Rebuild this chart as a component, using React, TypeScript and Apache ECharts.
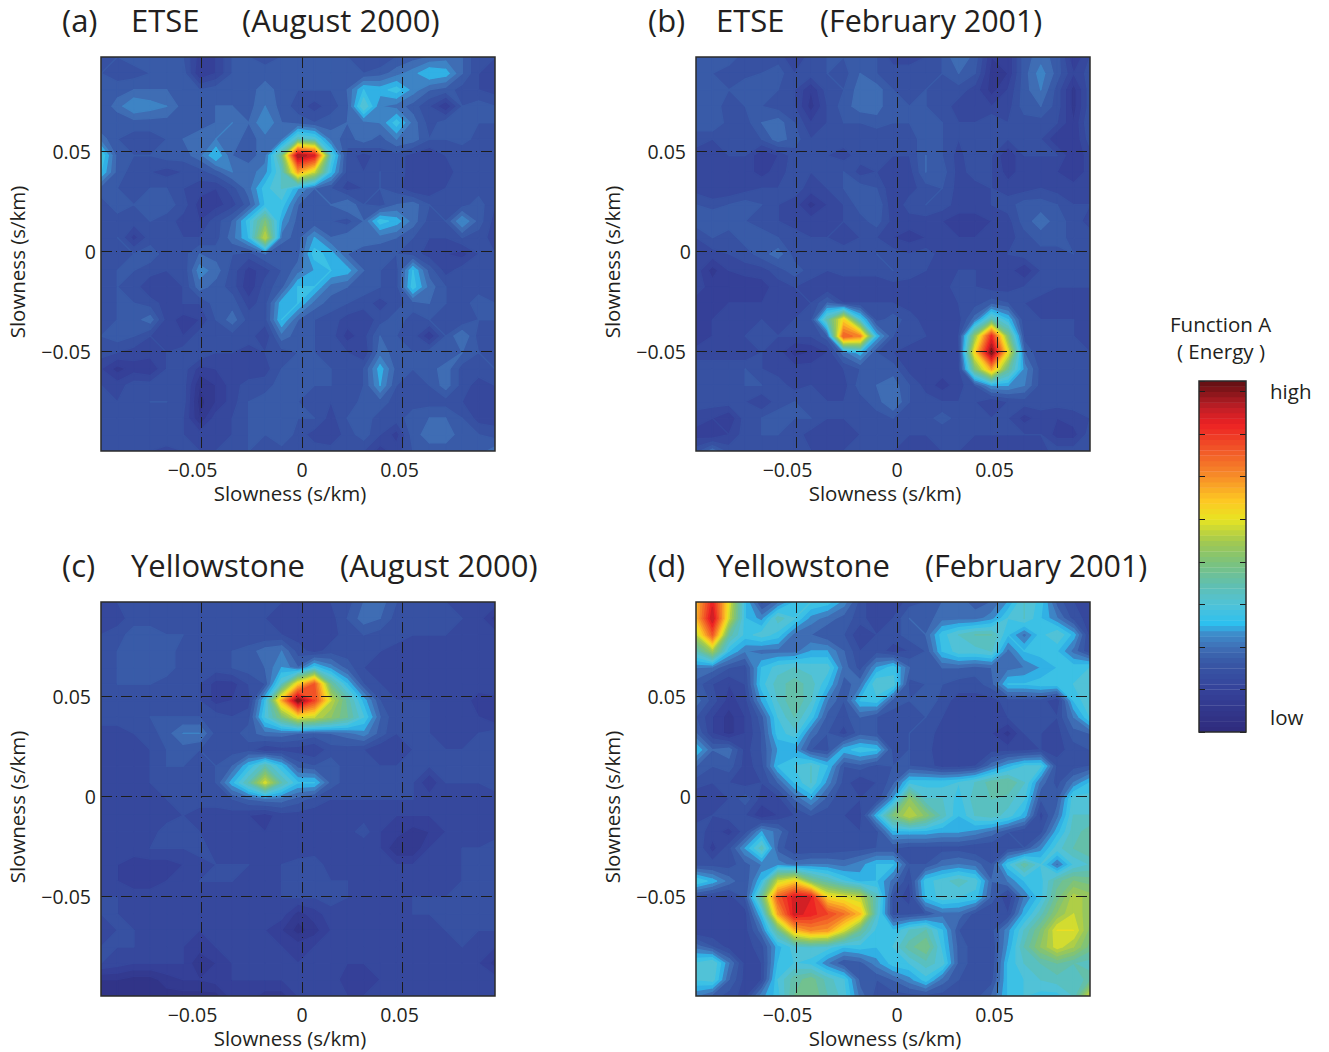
import React, { useEffect, useRef } from "react";
import * as echarts from "echarts";

const FONT = '"Open Sans", sans-serif';
const INK = "#231f20";

const panelA = [
[11,12,13,13,12,12,7,8,12,12,11,12,13,12,12,12,11,10,12,13,14,15,14,10,10],
[12,11,11,12,12,13,6,8,12,13,13,12,13,13,13,13,12,13,15,17,20,19,14,10,9],
[12,13,14,14,14,13,12,13,12,13,15,13,12,12,12,14,20,19,21,17,14,13,11,10,9],
[12,15,18,17,16,13,12,14,14,13,16,13,11,9,11,13,24,16,15,13,10,6,12,13,12],
[12,12,13,13,13,12,13,14,16,14,18,14,13,12,13,14,15,16,21,15,11,13,14,12,12],
[15,12,11,11,12,14,15,16,15,13,15,15,25,23,15,13,15,13,16,15,12,12,13,11,11],
[22,13,12,12,13,13,15,20,14,13,15,28,60,56,23,11,9,11,11,9,8,10,10,10,11],
[20,13,11,10,9,10,11,13,16,15,17,24,44,36,20,11,10,12,11,9,8,9,11,11,11],
[13,12,11,12,12,10,9,8,11,15,21,24,18,14,12,9,10,12,11,8,8,10,11,11,10],
[11,13,12,13,13,11,7,7,9,13,20,21,14,13,14,16,12,11,14,15,12,11,11,13,10],
[11,11,11,12,11,9,8,11,14,21,30,18,13,12,12,11,14,21,19,15,11,12,18,13,9],
[11,12,7,11,10,10,10,11,15,20,36,15,13,18,14,15,15,15,14,12,10,10,12,11,9],
[10,10,12,13,11,11,14,13,12,11,14,12,13,21,19,14,13,12,12,11,9,8,7,10,10],
[11,12,12,11,10,10,17,15,11,7,9,12,15,18,20,19,14,12,11,20,13,9,11,11,11],
[11,12,11,8,8,10,15,13,11,6,11,13,20,20,15,14,13,12,11,21,15,12,11,11,11],
[11,12,12,11,9,10,10,13,13,9,11,19,20,15,13,12,11,9,11,13,14,12,11,13,12],
[11,12,13,15,9,7,8,12,15,11,11,20,14,12,11,9,8,11,13,11,12,11,10,12,12],
[12,13,12,10,9,8,11,11,11,11,8,15,13,12,11,7,9,14,12,11,6,12,16,11,10],
[11,10,9,9,10,11,12,10,10,9,10,11,12,12,11,10,8,15,13,12,13,12,14,12,10],
[8,5,7,6,10,11,7,8,9,8,9,12,12,12,12,11,12,19,13,12,13,15,11,11,12],
[10,9,11,11,11,11,4,6,9,11,11,13,12,12,12,10,12,18,12,11,12,15,11,9,10],
[11,10,11,12,12,11,3,6,9,12,13,13,12,11,10,10,13,13,11,11,11,11,10,9,9],
[11,11,11,11,11,10,4,9,10,12,13,13,12,12,9,12,13,11,11,13,14,14,12,9,9],
[12,11,11,11,12,10,9,9,10,12,12,14,11,9,8,11,13,10,7,13,15,15,13,12,11],
[11,11,10,10,9,10,10,10,11,12,11,11,11,11,11,11,10,7,9,12,13,13,13,13,15],
];

const panelB = [
[12,12,13,11,10,11,8,11,12,12,13,12,9,9,10,12,16,13,6,6,13,15,13,6,10],
[13,12,11,11,12,13,10,11,12,11,14,12,11,11,11,12,14,12,5,6,13,17,13,8,11],
[13,14,12,14,12,12,10,6,11,12,15,15,12,11,12,11,11,9,5,8,13,16,11,5,11],
[12,13,11,12,12,11,10,5,10,13,15,15,12,12,12,11,9,8,8,9,13,14,11,5,11],
[13,14,11,11,14,15,12,8,10,12,12,13,12,12,13,12,10,10,12,10,11,11,10,6,12],
[11,10,10,11,12,15,13,10,10,11,11,10,11,11,13,12,10,11,10,10,10,10,6,6,11],
[9,9,10,10,6,8,11,10,10,9,11,11,10,10,14,12,9,12,10,6,10,10,10,6,9],
[8,9,9,9,7,9,11,10,11,12,9,10,9,9,14,13,9,11,10,7,9,9,8,6,9],
[9,8,8,9,10,10,11,9,10,12,13,12,8,9,11,12,9,9,10,9,9,10,9,9,9],
[12,11,12,13,12,10,9,5,8,10,13,14,8,11,12,11,9,9,10,11,13,13,12,10,10],
[13,14,13,12,11,10,9,9,8,10,11,13,9,9,9,8,7,7,8,9,13,15,13,11,9],
[10,12,11,13,13,12,11,10,10,9,10,10,8,7,8,8,8,8,8,9,11,13,13,11,11],
[9,9,10,11,13,15,11,10,11,11,11,12,11,10,11,9,9,9,8,10,11,11,11,12,11],
[9,5,8,9,9,11,13,11,10,11,11,11,12,11,10,9,10,10,9,9,6,10,11,11,11],
[9,7,7,6,7,9,10,9,8,8,8,8,9,9,9,9,11,10,9,9,10,11,10,10,10],
[7,7,8,8,8,8,9,10,14,10,10,10,10,9,8,9,10,11,13,12,10,9,9,9,8],
[6,8,9,9,10,9,10,11,26,40,22,11,13,11,9,8,9,15,26,20,10,10,10,10,9],
[6,8,9,10,11,10,10,10,13,50,46,19,12,11,10,9,10,32,54,30,11,10,10,10,9],
[9,9,9,8,10,9,5,6,8,15,19,12,10,9,9,9,9,40,62,38,14,10,11,10,10],
[11,11,11,12,10,9,9,9,8,10,12,13,13,9,9,9,9,30,44,28,17,11,10,11,11],
[11,11,10,12,12,11,9,10,9,9,13,14,15,12,9,7,9,12,18,18,16,11,11,11,12],
[11,11,11,10,8,11,12,11,10,10,11,13,16,12,11,10,10,10,8,10,11,11,11,11,11],
[9,8,6,11,12,13,12,12,10,10,10,11,12,11,11,13,11,10,10,10,7,9,8,9,10],
[7,6,8,11,12,12,11,9,9,9,10,10,11,10,10,10,11,10,10,10,10,10,7,7,11],
[11,15,11,11,11,11,10,10,10,10,10,10,10,9,9,10,10,9,9,9,9,9,11,11,12],
];

const panelC = [
[9,10,10,10,11,11,11,11,11,11,11,10,10,9,10,11,14,15,12,10,10,10,9,9,9],
[9,9,11,11,11,10,11,11,11,10,10,9,8,8,9,12,15,14,11,11,10,10,10,9,5],
[10,11,13,13,12,12,11,11,11,10,10,10,9,8,9,11,12,11,11,10,10,10,9,9,9],
[10,12,13,14,13,11,11,11,12,13,15,16,11,9,11,11,10,10,9,9,9,9,9,9,9],
[10,12,13,13,13,11,11,11,12,13,14,18,14,21,17,13,10,9,8,8,8,9,9,9,10],
[11,12,12,12,11,11,10,7,7,10,12,24,40,50,28,20,12,10,9,8,8,9,9,9,10],
[11,11,11,11,11,11,10,7,8,9,20,43,62,52,36,27,19,12,10,10,10,9,9,7,7],
[11,11,11,12,12,12,12,11,10,11,22,30,38,36,32,28,22,14,10,10,10,9,9,8,6],
[9,9,10,11,13,16,16,11,11,13,15,15,14,13,14,15,17,13,10,10,10,9,9,10,11],
[8,9,8,10,12,13,12,11,11,11,8,9,9,8,11,11,10,8,9,10,10,10,10,10,11],
[8,9,8,10,12,12,11,12,14,20,26,20,13,12,13,11,10,10,10,10,10,10,10,10,11],
[9,9,9,10,11,11,11,12,19,26,37,26,20,20,13,11,10,10,10,10,6,10,10,10,11],
[8,8,8,9,10,10,11,11,12,14,15,15,13,11,10,10,10,10,10,10,9,9,9,9,9],
[8,8,8,8,9,10,9,9,9,8,7,9,9,9,9,9,9,8,8,8,8,8,8,8,8],
[9,8,8,9,11,11,10,9,8,8,8,8,9,9,8,9,11,8,7,5,6,8,9,9,9],
[10,9,9,10,10,10,11,9,8,8,9,8,8,9,8,8,8,8,4,4,8,9,10,10,11],
[9,8,7,7,7,8,9,10,10,10,9,10,11,11,9,8,8,8,8,8,9,9,10,10,11],
[9,8,7,7,8,8,10,10,10,9,9,10,11,11,10,10,9,9,8,8,9,9,10,10,10],
[10,10,9,9,8,9,8,8,9,9,9,10,10,10,11,10,9,9,9,10,10,10,10,10,10],
[10,10,9,9,8,8,8,8,8,8,8,9,5,7,9,9,9,8,9,10,10,11,12,10,10],
[9,10,10,9,9,8,8,8,8,8,8,6,3,5,8,8,9,8,9,8,9,10,10,10,10],
[10,10,10,9,8,8,7,8,8,8,8,8,7,8,8,8,8,8,8,8,9,9,10,8,8],
[10,9,8,8,8,8,4,6,8,8,8,8,8,8,8,8,8,8,8,8,8,8,8,8,5],
[4,4,3,3,5,6,6,7,8,8,8,8,9,9,9,7,7,8,8,8,8,8,9,9,9],
[3,3,3,3,3,3,3,3,7,7,5,5,8,9,9,8,8,8,8,8,8,8,9,9,9],
];

const panelD = [
[42,55,38,20,11,15,20,22,21,17,11,8,8,11,12,14,15,13,14,18,24,21,13,10,9],
[42,58,36,20,17,25,22,17,15,13,11,8,10,14,13,15,15,15,17,22,24,20,16,11,9],
[35,50,27,21,23,21,15,14,12,12,8,10,11,13,14,21,24,26,26,20,15,21,24,19,9],
[25,33,20,16,15,15,15,18,18,14,10,11,9,10,12,20,23,23,24,15,20,21,20,15,10],
[16,15,12,11,20,23,24,23,23,15,11,18,21,14,13,14,14,13,14,15,16,18,20,21,22],
[13,10,8,10,21,25,27,25,20,13,15,24,23,11,12,12,11,11,13,20,20,21,21,22,23],
[15,11,7,9,18,24,28,24,16,12,20,21,13,12,14,11,9,9,9,11,11,11,8,20,24],
[12,8,5,8,13,22,26,21,13,11,14,12,11,11,12,10,9,9,9,10,10,10,10,16,22],
[14,8,5,8,12,21,23,15,12,9,13,12,10,12,11,9,9,9,8,5,10,10,9,13,14],
[20,14,15,9,12,18,18,12,11,19,21,20,11,12,11,8,8,9,9,9,9,10,9,11,12],
[14,12,13,9,11,20,22,24,20,12,13,11,12,12,11,9,9,10,15,19,22,22,11,11,12],
[11,10,10,9,10,14,20,24,17,11,8,10,13,21,21,21,22,24,27,28,24,15,11,16,20],
[8,8,10,13,9,9,14,18,13,10,10,10,18,32,24,24,21,25,26,25,22,12,13,23,23],
[9,10,11,10,6,8,10,12,11,10,9,19,30,36,31,25,20,24,25,23,19,9,15,24,24],
[11,9,7,11,18,15,10,10,10,10,10,11,19,19,19,18,18,17,15,12,10,11,19,25,27],
[12,7,11,18,25,13,10,10,10,11,11,12,12,11,11,11,11,10,10,11,12,17,23,26,28],
[11,11,11,13,16,17,15,16,16,15,17,20,20,12,12,15,16,15,12,21,27,22,15,22,24],
[22,19,15,12,20,36,40,30,26,22,19,20,15,10,21,23,25,23,14,16,20,21,27,30,29],
[10,9,9,12,28,50,57,56,40,38,36,25,11,9,20,23,22,21,13,8,16,21,29,35,33],
[9,9,9,9,20,44,57,55,52,48,42,24,11,11,12,15,15,11,10,10,19,25,32,36,32],
[8,8,9,9,15,28,42,46,45,37,28,21,20,24,26,20,12,11,11,17,24,30,38,38,31],
[15,12,9,9,11,19,23,24,23,20,21,20,22,27,30,21,13,11,10,18,26,32,37,34,29],
[22,24,16,9,10,20,22,21,16,12,13,17,21,22,25,23,13,11,10,20,24,26,28,26,25],
[22,23,14,9,10,22,27,29,25,22,13,12,14,17,21,15,12,11,11,20,22,24,25,24,27],
[16,13,11,9,17,21,28,30,26,23,15,11,11,11,11,11,11,11,14,20,22,21,21,24,37],
];

const panelMatrices = [panelA, panelB, panelC, panelD];
const panelLetters = ["(a)", "(b)", "(c)", "(d)"];
const panelNames = ["ETSE", "ETSE", "Yellowstone", "Yellowstone"];
const panelDates = ["(August 2000)", "(February 2001)", "(August 2000)", "(February 2001)"];
const axisTitle = "Slowness (s/km)";
const colorStops: [number, string][] = [
  [0, "#2f2a7c"], [0.12, "#35429a"], [0.2, "#3858a6"], [0.24, "#3f6eb5"], [0.28, "#3d8ccb"],
  [0.31, "#2dc0ef"], [0.363, "#50c2d8"], [0.42, "#60bfb0"], [0.483, "#7cc27c"], [0.545, "#a3c94f"],
  [0.606, "#e8e422"], [0.66, "#fdc823"], [0.727, "#f78f28"], [0.79, "#f26128"], [0.877, "#ed2224"],
  [0.924, "#c01f26"], [1, "#5f0f12"],
];
const colorbarLevels = Array.from({ length: 66 }, (_, i) => i);
const colorbarLabels = ["high", "low"];
const colorbarTitle = ["Function A", "( Energy )"];

const PANEL_SIZE = 394;
const panelBoxes = [
  { left: 101, top: 57 },
  { left: 696, top: 57 },
  { left: 101, top: 602 },
  { left: 696, top: 602 },
];
const letterX = [62, 648, 62, 648];
const nameX = [131, 716, 131, 716];
const dateX = [242, 820, 340, 925];
const dateSize = [31, 30.4, 31, 30.4];
const X_MIN = -0.1, X_MAX = 0.096, Y_MIN = -0.1, Y_MAX = 0.097;
const BAND = 2;
const contourLevels = Array.from({ length: 32 }, (_, i) => i * BAND);

function hexRgb(h: string) {
  return [1, 3, 5].map((i) => parseInt(h.slice(i, i + 2), 16));
}
function colorAt(f: number) {
  const t = Math.max(0, Math.min(1, f));
  for (let i = 1; i < colorStops.length; i++) {
    if (t <= colorStops[i][0]) {
      const [a, ca] = colorStops[i - 1];
      const [b, cb] = colorStops[i];
      const k = (t - a) / (b - a);
      const A = hexRgb(ca), B = hexRgb(cb);
      return `rgb(${A.map((v, j) => Math.round(v + (B[j] - v) * k)).join(",")})`;
    }
  }
  return colorStops[colorStops.length - 1][1];
}
const bandColor = (level: number) => colorAt((level + BAND / 2) / 63);

function clipQuad(pts: number[][], vals: number[], level: number) {
  const out: number[][] = [];
  for (let i = 0; i < 4; i++) {
    const j = (i + 1) % 4;
    const va = vals[i], vb = vals[j];
    if (va >= level) out.push(pts[i]);
    if (va >= level !== vb >= level) {
      const k = (level - va) / (vb - va);
      out.push([pts[i][0] + (pts[j][0] - pts[i][0]) * k, pts[i][1] + (pts[j][1] - pts[i][1]) * k]);
    }
  }
  return out;
}

// One data item per contour level; levels are painted low to high, so each band's seams are covered.
function contourRenderer(m: number[][]) {
  const n = m.length - 1;
  const dx = (X_MAX - X_MIN) / n, dy = (Y_MAX - Y_MIN) / n;
  return (_: any, api: any) => {
    const level = api.value(0);
    const fill = bandColor(level);
    const children: any[] = [];
    for (let r = 0; r < n; r++) {
      for (let c = 0; c < n; c++) {
        const vals = [m[r + 1][c], m[r + 1][c + 1], m[r][c + 1], m[r][c]];
        const lo = Math.min(...vals), hi = Math.max(...vals);
        if (hi < level) continue;
        if (lo >= level + BAND) continue;
        const xL = X_MIN + c * dx, xR = xL + dx, yT = Y_MAX - r * dy, yB = yT - dy;
        const pts = [api.coord([xL, yB]), api.coord([xR, yB]), api.coord([xR, yT]), api.coord([xL, yT])];
        const poly = level <= lo ? pts : clipQuad(pts, vals, level);
        if (poly.length > 2) {
          children.push({ type: "polygon", shape: { points: poly }, style: { fill, stroke: fill, lineWidth: 1.3, lineJoin: "round" } });
        }
      }
    }
    return { type: "group", children };
  };
}

function tickFmt(v: number) {
  if (Math.abs(v + 0.05) < 1e-6) return "{m|\u22120.05}";
  if (Math.abs(v) < 1e-6) return "{z|0}";
  if (Math.abs(v - 0.05) < 1e-6) return "{p|0.05}";
  return "";
}
const labelBase = { fontFamily: FONT, fontSize: 19.5, color: INK, lineHeight: 17 };
const gridLine = { show: true, showMinLine: false, showMaxLine: false, lineStyle: { color: "#1c1c1c", width: 1, type: [11, 4, 1, 4] as number[] } };

function buildOption() {
  const grid: any[] = [], xAxis: any[] = [], yAxis: any[] = [], series: any[] = [], graphic: any[] = [];
  const text = (t: string, x: number, y: number, size: number, extra: any = {}) => ({
    type: "text", x, y, z: 50, ...extra,
    style: { text: t, fontFamily: FONT, fontSize: size, fill: INK, textVerticalAlign: "middle", ...(extra.style || {}) },
  });
  panelBoxes.forEach((b, i) => {
    grid.push({ left: b.left, top: b.top, width: PANEL_SIZE, height: PANEL_SIZE, show: true, z: 20, backgroundColor: "transparent", borderColor: "#2b2b2b", borderWidth: 1.5 });
    xAxis.push({
      type: "value", gridIndex: i, min: X_MIN, max: X_MAX, interval: 0.05, z: 10,
      axisLine: { show: false }, axisTick: { show: false }, splitLine: gridLine,
      axisLabel: { ...labelBase, margin: 10, formatter: tickFmt, showMinLabel: false, showMaxLabel: false,
        rich: { m: { ...labelBase, padding: [0, 18, 0, 0] }, z: { ...labelBase }, p: { ...labelBase, padding: [0, 6, 0, 0] } } },
    });
    yAxis.push({
      type: "value", gridIndex: i, min: Y_MIN, max: Y_MAX, interval: 0.05, z: 10,
      axisLine: { show: false }, axisTick: { show: false }, splitLine: gridLine,
      axisLabel: { ...labelBase, margin: 5, formatter: tickFmt, showMinLabel: false, showMaxLabel: false,
        rich: { m: { ...labelBase, padding: [0, 5, 0, 0] }, z: { ...labelBase }, p: { ...labelBase, padding: [0, 5, 0, 0] } } },
    });
    series.push({
      type: "custom", xAxisIndex: i, yAxisIndex: i, renderItem: contourRenderer(panelMatrices[i]), clip: true, silent: true,
      data: contourLevels.map((l) => [l]), encode: { x: [], y: [] },
    });
    const ty = b.top - 37;
    graphic.push(text(panelLetters[i], letterX[i], ty, 31));
    graphic.push(text(panelNames[i], nameX[i], ty, 31));
    graphic.push(text(panelDates[i], dateX[i], ty, dateSize[i]));
    graphic.push(text(axisTitle, b.left + 189, b.top + 436, 20.5, { style: { textAlign: "center" } }));
    graphic.push(text(axisTitle, b.left - 84, b.top + 205, 20.5, { rotation: Math.PI / 2, style: { textAlign: "center" } }));
  });
  const cb = panelBoxes.length;
  grid.push({ left: 1199, top: 381, width: 47, height: 351, show: true, z: 20, backgroundColor: "transparent", borderColor: "#2b2b2b", borderWidth: 1.5 });
  xAxis.push({ type: "value", gridIndex: cb, min: 0, max: 1, show: false });
  const barAxis = { type: "value", gridIndex: cb, min: 0, max: 66, interval: 8, z: 10, axisLine: { show: false },
    axisLabel: { show: false }, splitLine: { show: false },
    axisTick: { show: true, inside: true, length: 6, lineStyle: { color: "#1c1c1c", width: 1 } } };
  yAxis.push({ ...barAxis, position: "left" });
  yAxis.push({ ...barAxis, position: "right" });
  series.push({
    type: "custom", xAxisIndex: cb, yAxisIndex: cb, silent: true, clip: true,
    data: colorbarLevels.map((l) => [l]), encode: { x: [], y: [] },
    renderItem: (_: any, api: any) => {
      const l = api.value(0);
      const a = api.coord([0, l + 1]), c = api.coord([1, l]);
      return { type: "rect", shape: { x: a[0], y: a[1], width: c[0] - a[0], height: c[1] - a[1] + 0.4 }, style: { fill: colorAt((l + 0.5) / 66) } };
    },
  });
  graphic.push(text(colorbarTitle[0], 1170, 324, 20.5));
  graphic.push(text(colorbarTitle[1], 1177, 351, 20.5));
  graphic.push(text(colorbarLabels[0], 1270, 391, 20.5));
  graphic.push(text(colorbarLabels[1], 1270, 717, 20.5));
  return { animation: false, backgroundColor: "#ffffff", grid, xAxis, yAxis, series, graphic };
}

export default function App() {
  const ref = useRef<HTMLDivElement>(null);
  useEffect(() => {
    const chart = echarts.init(ref.current!, undefined, { renderer: "svg" });
    chart.setOption(buildOption() as any);
    return () => chart.dispose();
  }, []);
  return <div ref={ref} style={{ position: "absolute", left: 0, top: 0, width: 1329, height: 1052 }} />;
}
